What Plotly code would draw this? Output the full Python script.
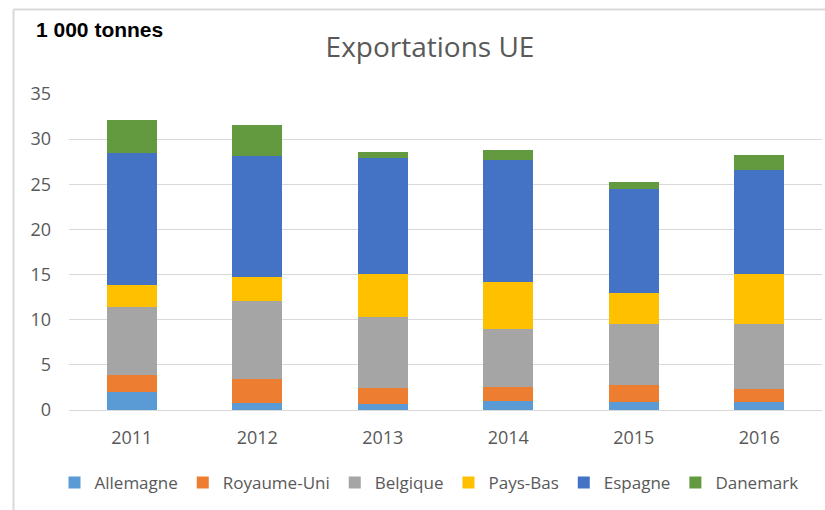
import plotly.graph_objects as go

years = ["2011", "2012", "2013", "2014", "2015", "2016"]
allemagne = [2.0, 0.8, 0.7, 1.0, 0.9, 0.9]
royaume_uni = [1.85, 2.65, 1.77, 1.55, 1.88, 1.44]
belgique = [7.52, 8.64, 7.83, 6.42, 6.79, 7.23]
pays_bas = [2.5, 2.66, 4.76, 5.2, 3.4, 5.5]
espagne = [14.6, 13.43, 12.88, 13.53, 11.51, 11.54]
danemark = [3.6, 3.4, 0.63, 1.1, 0.78, 1.64]

series = [
    ("Allemagne", allemagne, "#5B9BD5"),
    ("Royaume-Uni", royaume_uni, "#ED7D31"),
    ("Belgique", belgique, "#A5A5A5"),
    ("Pays-Bas", pays_bas, "#FFC000"),
    ("Espagne", espagne, "#4472C4"),
    ("Danemark", danemark, "#639A3F"),
]

fig = go.Figure()
for name, vals, color in series:
    fig.add_trace(go.Bar(x=years, y=vals, name=name,
                         marker=dict(color=color, line=dict(width=0))))

W, H = 825, 510
L, R, T, B = 69, 3, 94, 100
pw, ph = W - L - R, H - T - B


def px_x(x):
    return (x - L) / pw


def px_y(y):
    return (H - B - y) / ph


fig.update_layout(
    width=W, height=H,
    margin=dict(l=L, r=R, t=T, b=B),
    paper_bgcolor="white", plot_bgcolor="white",
    barmode="stack", bargap=0.6,
    font=dict(family="Open Sans", color="#595959"),
    title=dict(text="Exportations UE", x=430 / W, xref="container", xanchor="center",
               y=1 - 47 / H, yref="container", yanchor="middle",
               font=dict(family="Open Sans", size=28, color="#595959")),
    xaxis=dict(showgrid=False, showline=True, linecolor="#d9d9d9", linewidth=1,
               tickfont=dict(size=18, color="#595959"), ticks="", ticklabelstandoff=11),
    yaxis=dict(range=[0, 35], dtick=5, showgrid=True, gridcolor="#d9d9d9", gridwidth=1,
               zeroline=False, showline=False, ticks="",
               tickfont=dict(size=18, color="#595959"), ticklabelstandoff=17),
    legend=dict(orientation="h", x=px_x(429), xanchor="center", y=px_y(483), yanchor="middle",
                traceorder="normal", font=dict(size=17, color="#595959")),
    showlegend=True,
    annotations=[dict(text="<b>1 000 tonnes</b>", xref="paper", yref="paper",
                      x=px_x(34), y=px_y(29), xanchor="left", yanchor="middle",
                      showarrow=False,
                      font=dict(family="Liberation Sans", size=21, color="black"))],
    shapes=[
        dict(type="line", xref="paper", yref="paper", x0=px_x(13.5), x1=px_x(830),
             y0=px_y(9.5), y1=px_y(9.5), line=dict(color="#d9d9d9", width=2)),
        dict(type="line", xref="paper", yref="paper", x0=px_x(13.5), x1=px_x(13.5),
             y0=px_y(9.5), y1=px_y(515), line=dict(color="#d9d9d9", width=2)),
    ],
)

fig.write_html(
    "out.html",
    config={"displayModeBar": False},
    post_script="document.body.style.margin='0';document.body.style.overflow='hidden';",
)
